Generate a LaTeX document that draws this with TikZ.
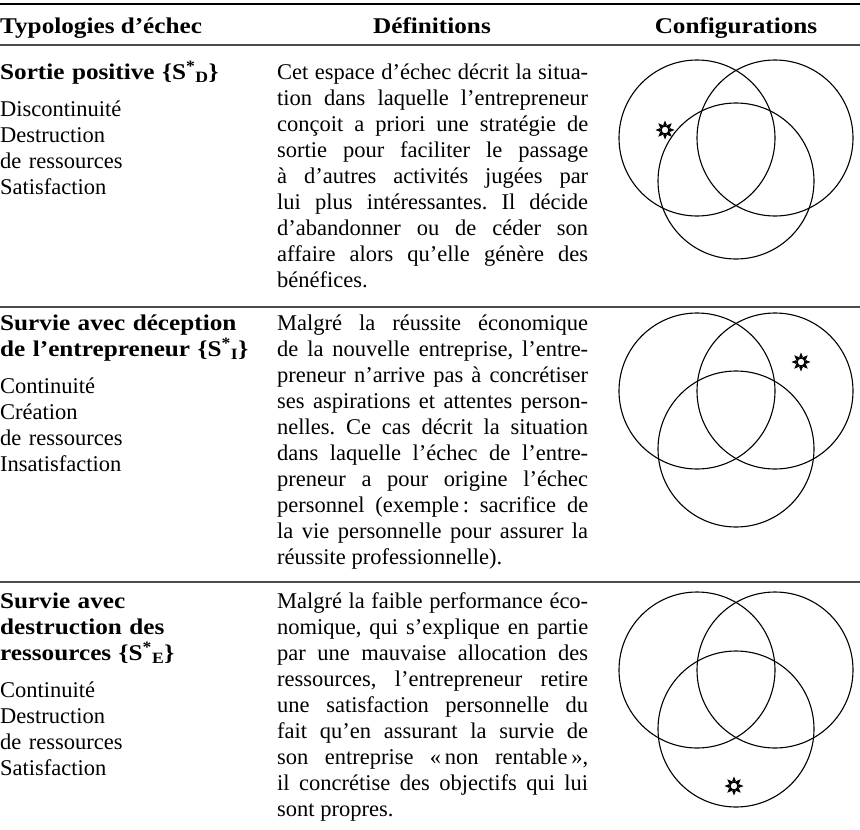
\documentclass[tikz,border=0pt]{standalone}
\usepackage{fontspec}
\setmainfont{Liberation Serif}[BoldFeatures={FakeStretch=1.12}]
\usetikzlibrary{positioning}

\tikzset{
  texte/.style={inner sep=0pt, font=\fontsize{22.5}{26}\selectfont\frenchspacing},
  entete/.style={inner sep=0pt, font=\fontsize{22.5}{26}\selectfont\bfseries},
  typo/.style={texte, anchor=base west, text width=268pt, align=left},
  defi/.style={texte, anchor=base west, text width=311pt, align=justify},
  filet/.style={line width=1.2pt, draw=black!70},
  cercle/.style={line width=1.1pt},
  etoile/.pic={
    \draw[line width=1.6pt] (0,0) circle[radius=4.2];
    \foreach \a in {0,45,...,315}
      \fill (\a:9.5) -- (\a+24:5) -- (\a-24:5) -- cycle;
  }
}

\begin{document}
\begin{tikzpicture}[x=1pt,y=-1pt]
  \useasboundingbox (0,0) rectangle (860,830);
%Filets du tableau
  \draw[line width=2.4pt] (0,4) -- (860,4);
  \draw[filet] (0,45) -- (860,45);
  \draw[filet] (0,307) -- (860,307);
  \draw[filet] (0,582) -- (860,582);
%En-tete
  \node[entete, anchor=base west] (tTypo) at (0,33) {Typologies d'échec};
  \node[entete, anchor=base] (tDef) at (432,33) {Définitions};
  \node[entete, anchor=base] (tConf) at (736,33) {Configurations};
%Typologies
  \node[typo] (typoD) at (0,79) {\textbf{Sortie positive \{S\textsuperscript{*}\textsubscript{D}\}}\\[11pt]
    Discontinuité\\ Destruction\\ de ressources\\ Satisfaction};
  \node[typo] (typoI) at (0,330) {\textbf{Survie avec déception}\\ \textbf{de l'entrepreneur \{S\textsuperscript{*}\textsubscript{I}\}}\\[11pt]
    Continuité\\ Création\\ de ressources\\ Insatisfaction};
  \node[typo] (typoE) at (0,608) {\textbf{Survie avec}\\ \textbf{destruction des}\\ \textbf{ressources \{S\textsuperscript{*}\textsubscript{E}\}}\\[11pt]
    Continuité\\ Destruction\\ de ressources\\ Satisfaction};
%Definitions
  \node[defi] (defD) at (277,79) {Cet espace d'échec décrit la situa-\linebreak
    tion dans laquelle l'entrepreneur\linebreak conçoit a priori une stratégie de\linebreak
    sortie pour faciliter le passage\linebreak à d'autres activités jugées par\linebreak
    lui plus intéressantes. Il décide\linebreak d'abandonner ou de céder son\linebreak
    affaire alors qu'elle génère des\linebreak bénéfices.};
  \node[defi] (defI) at (277,330) {Malgré la réussite économique\linebreak
    de la nouvelle entreprise, l'entre-\linebreak preneur n'arrive pas à concrétiser\linebreak
    ses aspirations et attentes person-\linebreak nelles. Ce cas décrit la situation\linebreak
    dans laquelle l'échec de l'entre-\linebreak preneur a pour origine l'échec\linebreak
    personnel (exemple\,: sacrifice de\linebreak la vie personnelle pour assurer la\linebreak
    réussite professionnelle).};
  \node[defi] (defE) at (277,608) {Malgré la faible performance éco-\linebreak
    nomique, qui s'explique en partie\linebreak par une mauvaise allocation des\linebreak
    ressources, l'entrepreneur retire\linebreak une satisfaction personnelle du\linebreak
    fait qu'en assurant la survie de\linebreak son entreprise «\,non rentable\,»,\linebreak
    il concrétise des objectifs qui lui\linebreak sont propres.};
%Configurations: cy = centre des deux cercles du haut, dy = decalage du cercle du bas
  \pgfmathsetmacro{\R}{78}
  \pgfmathsetmacro{\cx}{736}
  \foreach \cy/\dy/\sx/\sy/\nom in {138/43/665/130/sD, 391/58/801/362/sI, 670/59/734/786/sE}{
    \draw[cercle] (\cx-\R/2,\cy) circle[radius=\R];
    \draw[cercle] (\cx+\R/2,\cy) circle[radius=\R];
    \draw[cercle] (\cx,\cy+\dy) circle[radius=\R];
    \pic (\nom) at (\sx,\sy) {etoile};
  }
\end{tikzpicture}
\end{document}
